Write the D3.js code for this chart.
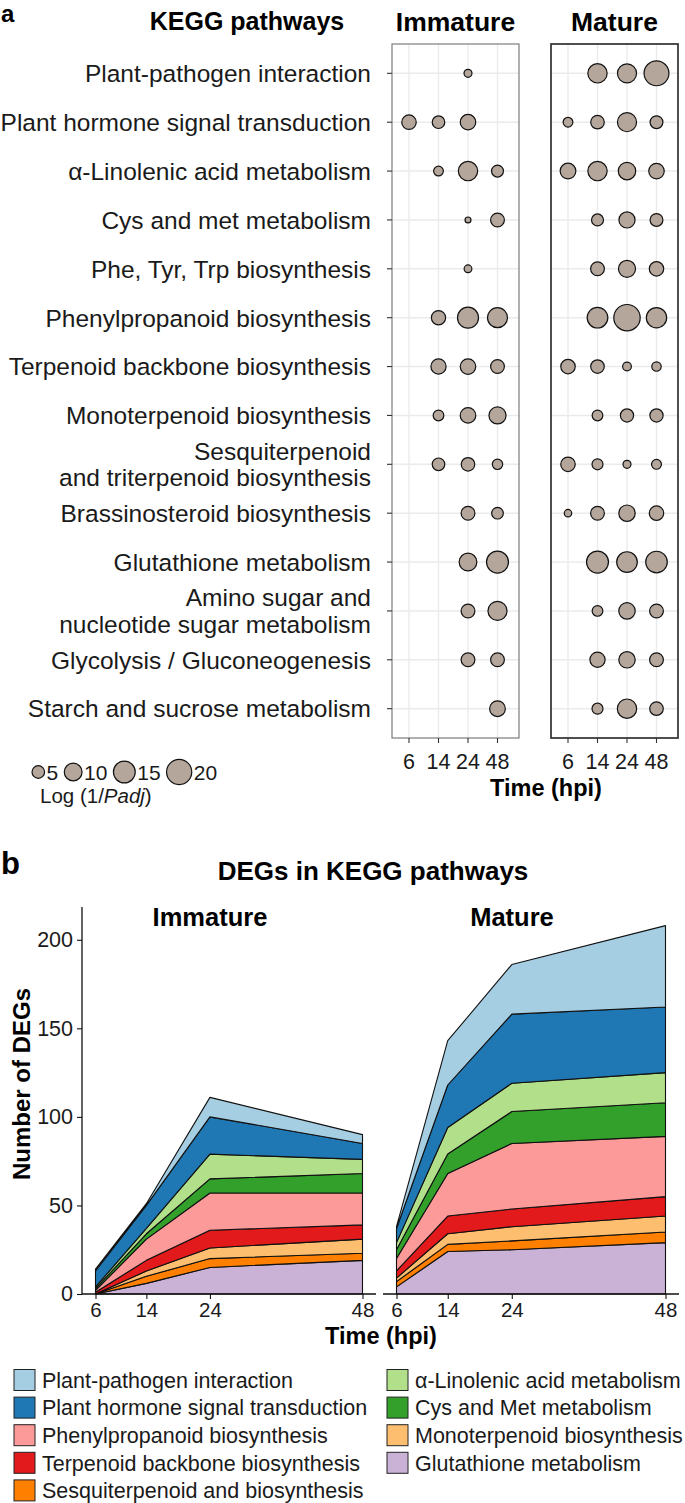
<!DOCTYPE html>
<html><head><meta charset="utf-8">
<script src="https://cdn.jsdelivr.net/npm/d3@7"></script>
<style>body{margin:0;background:#fff} svg{display:block;font-family:"Liberation Sans",Arial,Helvetica,sans-serif}</style>
</head><body><svg id="c" width="685" height="1503"></svg>
<script>
// ---------- DATA: panel a ----------
const pathways = [
  "Plant-pathogen interaction",
  "Plant hormone signal transduction",
  "α-Linolenic acid metabolism",
  "Cys and met metabolism",
  "Phe, Tyr, Trp biosynthesis",
  "Phenylpropanoid biosynthesis",
  "Terpenoid backbone biosynthesis",
  "Monoterpenoid biosynthesis",
  "Sesquiterpenoid\nand triterpenoid biosynthesis",
  "Brassinosteroid biosynthesis",
  "Glutathione metabolism",
  "Amino sugar and\nnucleotide sugar metabolism",
  "Glycolysis / Gluconeogenesis",
  "Starch and sucrose metabolism"
];
const hpiLabels = ["6", "14", "24", "48"];
// Log(1/Padj) per pathway at 6,14,24,48 hpi (null = not significant)
const immatureSig = [
  [null, null, 2.0, null],
  [6.6, 5.0, 7.6, null],
  [null, 3.0, 11.8, 4.5],
  [null, null, 1.1, 6.0],
  [null, null, 1.9, null],
  [null, 6.4, 13.9, 12.6],
  [null, 7.3, 7.6, 6.0],
  [null, 3.6, 7.6, 9.2],
  [null, 5.0, 5.8, 3.4],
  [null, null, 6.0, 4.3],
  [null, null, 9.9, 15.2],
  [null, null, 6.0, 11.5],
  [null, null, 6.0, 6.0],
  [null, null, null, 7.8]
];
const matureSig = [
  [null, 11.8, 11.5, 19.5],
  [3.0, 5.8, 11.5, 5.2],
  [7.8, 11.8, 9.6, 7.6],
  [null, 4.5, 8.2, 5.2],
  [null, 6.0, 9.2, 6.6],
  [null, 13.4, 22.0, 13.0],
  [6.6, 5.8, 2.4, 2.8],
  [null, 3.6, 5.5, 5.5],
  [6.6, 3.8, 2.0, 3.1],
  [1.75, 6.0, 8.5, 6.6],
  [null, 15.2, 13.4, 14.7],
  [null, 3.6, 8.5, 6.0],
  [null, 7.3, 8.5, 6.0],
  [null, 3.8, 11.8, 5.8]
];
const sizeBreaks = [5, 10, 15, 20];

// ---------- DATA: panel b ----------
const degTimes = [6, 14, 24, 48];
const degSeries = [
  "Glutathione metabolism",
  "Sesquiterpenoid and biosynthesis",
  "Monoterpenoid biosynthesis",
  "Terpenoid backbone biosynthesis",
  "Phenylpropanoid biosynthesis",
  "Cys and Met metabolism",
  "α-Linolenic acid metabolism",
  "Plant hormone signal transduction",
  "Plant-pathogen interaction"
];
const degColors = ["#cab2d6", "#ff7f00", "#fdbf6f", "#e31a1c", "#fb9a99", "#33a02c", "#b2df8a", "#1f78b4", "#a6cee3"];
const immatureDEGs = [
  [0, 6, 15, 19],
  [0, 4, 5, 4],
  [0, 3, 6, 8],
  [1, 6, 10, 8],
  [1, 12, 21, 18],
  [1, 3, 8, 11],
  [1, 3, 14, 8],
  [9, 13, 21, 9],
  [1, 1, 11, 5]
];
const matureDEGs = [
  [4, 24, 25, 29],
  [3, 4, 5, 6],
  [2, 6, 8, 9],
  [4, 10, 10, 11],
  [7, 24, 37, 34],
  [5, 11, 18, 19],
  [4, 15, 16, 17],
  [8, 24, 39, 37],
  [1, 25, 28, 46]
];
const degYTicks = [0, 50, 100, 150, 200];
const legendLeft = ["Plant-pathogen interaction", "Plant hormone signal transduction", "Phenylpropanoid biosynthesis", "Terpenoid backbone biosynthesis", "Sesquiterpenoid and biosynthesis"];
const legendRight = ["α-Linolenic acid metabolism", "Cys and Met metabolism", "Monoterpenoid biosynthesis", "Glutathione metabolism"];

// ---------- DRAW ----------
const svg = d3.select("#c");
svg.append("rect").attr("width", 685).attr("height", 1503).attr("fill", "#fff");

// ===== Panel a =====
svg.append("text").text("a").attr("x", 1).attr("y", 22)
  .attr("font-size", 24).attr("font-weight", "bold");
svg.append("text").text("KEGG pathways").attr("x", 247).attr("y", 30)
  .attr("text-anchor", "middle").attr("font-size", 25).attr("font-weight", "bold");

const panTop = 44, panBot = 738;
const rowY = d3.scalePoint().domain(pathways).range([panTop, panBot]).padding(0.6);
const sizeR = d3.scaleSqrt().domain([0, 22]).range([0, 13.2]);
const dotFill = "#b5a69c";

const panels = [
  {name: "Immature", x0: 392, x1: 519, data: immatureSig, border: "#707070", bw: 1.1},
  {name: "Mature", x0: 551, x1: 678, data: matureSig, border: "#303030", bw: 1.7}
];

panels.forEach(p => {
  const xs = d3.scalePoint().domain(hpiLabels).range([p.x0 + 17, p.x1 - 21.5]);
  const g = svg.append("g");
  g.selectAll("line.gv").data(hpiLabels).join("line")
    .attr("x1", d => xs(d)).attr("x2", d => xs(d)).attr("y1", panTop).attr("y2", panBot)
    .attr("stroke", "#ebebeb").attr("stroke-width", 1.4);
  g.selectAll("line.gh").data(pathways).join("line")
    .attr("x1", p.x0).attr("x2", p.x1).attr("y1", d => rowY(d)).attr("y2", d => rowY(d))
    .attr("stroke", "#ebebeb").attr("stroke-width", 1.4);
  const pts = [];
  pathways.forEach((pw, i) => hpiLabels.forEach((t, j) => {
    const v = p.data[i][j];
    if (v !== null) pts.push({pw, t, v});
  }));
  g.selectAll("circle").data(pts).join("circle")
    .attr("cx", d => xs(d.t)).attr("cy", d => rowY(d.pw)).attr("r", d => sizeR(d.v))
    .attr("fill", dotFill).attr("stroke", "#111").attr("stroke-width", 1.2);
  g.append("rect").attr("x", p.x0).attr("y", panTop).attr("width", p.x1 - p.x0).attr("height", panBot - panTop)
    .attr("fill", "none").attr("stroke", p.border).attr("stroke-width", p.bw);
  g.selectAll("line.tk").data(hpiLabels).join("line")
    .attr("x1", d => xs(d)).attr("x2", d => xs(d)).attr("y1", panBot).attr("y2", panBot + 5)
    .attr("stroke", "#333").attr("stroke-width", 1.1);
  g.selectAll("text.tl").data(hpiLabels).join("text")
    .attr("x", d => xs(d)).attr("y", panBot + 31).attr("text-anchor", "middle")
    .attr("font-size", 21.5).attr("fill", "#1a1a1a").text(d => d);
  svg.append("text").text(p.name).attr("x", (p.x0 + p.x1) / 2).attr("y", 31)
    .attr("text-anchor", "middle").attr("font-size", 26.5).attr("font-weight", "bold");
});

const yl = svg.append("g");
yl.selectAll("line").data(pathways).join("line")
  .attr("x1", 387).attr("x2", 392).attr("y1", d => rowY(d)).attr("y2", d => rowY(d))
  .attr("stroke", "#333").attr("stroke-width", 1.1);
pathways.forEach(pw => {
  const lines = pw.split("\n");
  const t = yl.append("text").attr("text-anchor", "end").attr("font-size", 24.5).attr("fill", "#1a1a1a");
  if (lines.length === 1) {
    t.append("tspan").attr("x", 371).attr("y", rowY(pw)).attr("dy", "0.36em").text(lines[0]);
  } else {
    t.append("tspan").attr("x", 371).attr("y", rowY(pw) - 13.5).attr("dy", "0.36em").text(lines[0]);
    t.append("tspan").attr("x", 371).attr("y", rowY(pw) + 13).attr("dy", "0.36em").text(lines[1]);
  }
});

svg.append("text").text("Time (hpi)").attr("x", 546).attr("y", 796)
  .attr("text-anchor", "middle").attr("font-size", 23.5).attr("font-weight", "bold");

// size legend
const lg = svg.append("g");
let cursor = 32;
sizeBreaks.forEach(b => {
  const r = sizeR(b);
  const cx = cursor + r;
  lg.append("circle").attr("cx", cx).attr("cy", 772).attr("r", r)
    .attr("fill", dotFill).attr("stroke", "#111").attr("stroke-width", 1.2);
  const t = lg.append("text").attr("x", cx + r + 2).attr("y", 772).attr("dy", "0.36em")
    .attr("font-size", 21).attr("fill", "#1a1a1a").text(b);
  cursor = cx + r + 2 + t.node().getComputedTextLength() + 6;
});
const lt = lg.append("text").attr("x", 40).attr("y", 803).attr("font-size", 20.5).attr("fill", "#1a1a1a");
lt.append("tspan").text("Log (1/");
lt.append("tspan").attr("font-style", "italic").text("Padj");
lt.append("tspan").text(")");

// ===== Panel b =====
svg.append("text").text("b").attr("x", 1).attr("y", 874)
  .attr("font-size", 31).attr("font-weight", "bold");
svg.append("text").text("DEGs in KEGG pathways").attr("x", 373).attr("y", 880)
  .attr("text-anchor", "middle").attr("font-size", 26).attr("font-weight", "bold");

const yB = d3.scaleLinear().domain([0, 218.5]).range([1294, 907]);
const bPanels = [
  {name: "Immature", px0: 82, px1: 376, counts: immatureDEGs, titleX: 210},
  {name: "Mature", px0: 383, px1: 679, counts: matureDEGs, titleX: 512}
];

bPanels.forEach(p => {
  const xB = d3.scaleLinear().domain([6, 48]).range([p.px0 + 13.5, p.px1 - 13.5]);
  const rows = degTimes.map((t, j) => {
    const o = {t};
    degSeries.forEach((s, i) => o[s] = p.counts[i][j]);
    return o;
  });
  const stacked = d3.stack().keys(degSeries)(rows);
  const area = d3.area().x(d => xB(d.data.t)).y0(d => yB(d[0])).y1(d => yB(d[1]));
  const g = svg.append("g");
  g.selectAll("path").data(stacked).join("path")
    .attr("d", area)
    .attr("fill", (d, i) => degColors[i])
    .attr("stroke", "#111").attr("stroke-width", 1.1).attr("stroke-linejoin", "round");
  const ax = g.append("g").attr("transform", "translate(0,1294)")
    .call(d3.axisBottom(xB).tickValues(degTimes).tickSize(5).tickPadding(3).tickFormat(d3.format("d")));
  ax.select(".domain").attr("d", `M${p.px0},0H${p.px1}`).attr("stroke", "#111").attr("stroke-width", 1.3);
  ax.selectAll(".tick line").attr("stroke", "#111").attr("stroke-width", 1.1);
  ax.selectAll("text").attr("font-size", 20.5).attr("font-family", "Liberation Sans, Arial, sans-serif").attr("fill", "#1a1a1a");
  svg.append("text").text(p.name).attr("x", p.titleX).attr("y", 926)
    .attr("text-anchor", "middle").attr("font-size", 25.5).attr("font-weight", "bold");
});

const ay = svg.append("g").attr("transform", "translate(82,0)")
  .call(d3.axisLeft(yB).tickValues(degYTicks).tickSize(5).tickPadding(4));
ay.select(".domain").attr("d", "M0,907V1294").attr("stroke", "#111").attr("stroke-width", 1.3);
ay.selectAll(".tick line").attr("stroke", "#111").attr("stroke-width", 1.1);
ay.selectAll("text").attr("font-size", 21.5).attr("font-family", "Liberation Sans, Arial, sans-serif").attr("fill", "#1a1a1a");

svg.append("text").text("Number of DEGs")
  .attr("transform", "translate(30,1084) rotate(-90)")
  .attr("text-anchor", "middle").attr("font-size", 24).attr("font-weight", "bold");
svg.append("text").text("Time (hpi)").attr("x", 381).attr("y", 1344)
  .attr("text-anchor", "middle").attr("font-size", 23.5).attr("font-weight", "bold");

const colorOf = d3.scaleOrdinal().domain(degSeries).range(degColors);
const legCols = [{items: legendLeft, x: 14}, {items: legendRight, x: 387}];
legCols.forEach(c => {
  c.items.forEach((name, i) => {
    const cy = 1380 + i * 27.6;
    svg.append("rect").attr("x", c.x).attr("y", cy - 10.5).attr("width", 21).attr("height", 21)
      .attr("fill", colorOf(name)).attr("stroke", "#222").attr("stroke-width", 1);
    svg.append("text").text(name).attr("x", c.x + 28).attr("y", cy).attr("dy", "0.36em")
      .attr("font-size", 21.5).attr("fill", "#1a1a1a");
  });
});
</script></body></html>
